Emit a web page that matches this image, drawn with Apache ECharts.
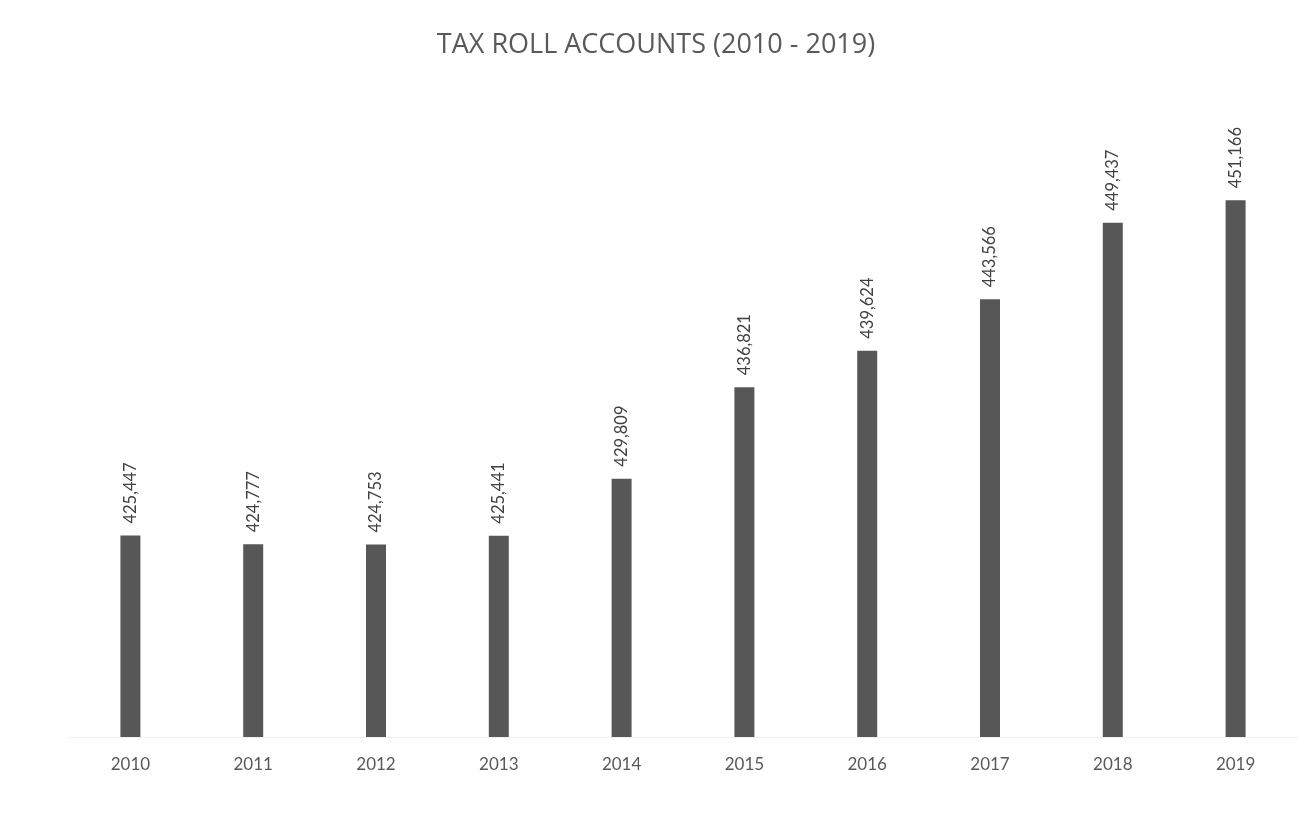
<!DOCTYPE html>
<html>
<head>
<meta charset="utf-8">
<script src="https://cdn.jsdelivr.net/npm/echarts@6/dist/echarts.min.js"></script>
<style>
  html, body { margin: 0; padding: 0; background: #ffffff; }
  #chart { width: 1312px; height: 816px; }
</style>
</head>
<body>
<div id="chart"></div>
<script>
// Tax roll account totals by year
const years = ['2010', '2011', '2012', '2013', '2014', '2015', '2016', '2017', '2018', '2019'];
const accounts = [425447, 424777, 424753, 425441, 429809, 436821, 439624, 443566, 449437, 451166];

const chart = echarts.init(document.getElementById('chart'));
const fontFamily = 'Lato, "Open Sans", sans-serif';

chart.setOption({
  backgroundColor: '#ffffff',
  animation: false,
  title: {
    text: 'TAX ROLL ACCOUNTS (2010 - 2019)',
    left: 'center',
    top: 27,
    textStyle: { color: '#595959', fontSize: 27, fontWeight: 'normal', fontFamily: '"Open Sans", sans-serif' }
  },
  grid: { left: 69, right: 15, top: 85, bottom: 79 },
  xAxis: {
    type: 'category',
    data: years,
    axisLine: { show: true, lineStyle: { color: '#f0f0f0', width: 1 } },
    axisTick: { show: false },
    axisLabel: { color: '#595959', fontSize: 17, margin: 19, fontFamily: fontFamily }
  },
  yAxis: {
    type: 'value',
    min: 410000,
    max: 460000,
    show: false,
    splitLine: { show: false }
  },
  series: [{
    type: 'bar',
    data: accounts,
    barWidth: 20,
    itemStyle: { color: '#575757' },
    label: {
      show: true,
      position: 'top',
      rotate: 90,
      align: 'left',
      verticalAlign: 'middle',
      distance: 12,
      color: '#404040',
      fontSize: 16.5,
      fontFamily: fontFamily,
      formatter: p => p.value.toLocaleString('en-US')
    }
  }]
});
</script>
</body>
</html>
